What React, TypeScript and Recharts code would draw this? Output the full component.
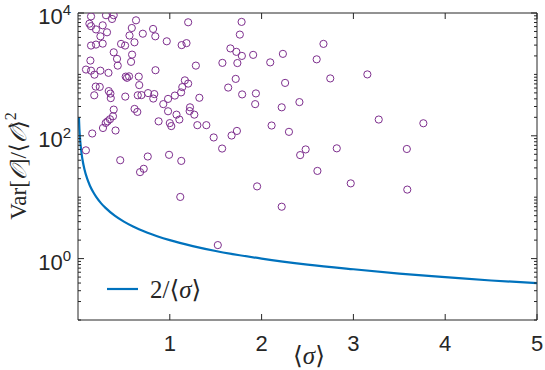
import React from 'react';
import { ComposedChart, Scatter, Line, XAxis, YAxis, Legend, ReferenceLine } from 'recharts';

// Scatter points: <sigma> and Var[O]/<O>^2
const scatterSigma = [
  0.142, 0.305, 0.389, 0.371, 0.124, 0.142, 0.269, 0.196, 0.316, 0.244,
  0.632, 0.586, 0.706, 0.561, 0.615, 0.469, 0.513, 0.142, 0.196, 0.269,
  0.389, 0.589, 0.135, 0.425, 0.578, 0.087, 0.142, 0.244, 0.179, 0.332,
  0.433, 0.520, 0.556, 0.534, 0.662, 0.193, 0.237, 0.335, 0.353, 0.357,
  0.177, 0.515, 0.667, 0.651, 0.691, 0.389, 0.616, 0.646, 0.381, 0.348,
  0.322, 0.302, 0.272, 0.409, 0.155, 0.086, 0.460, 0.760, 0.716, 0.676,
  0.818, 0.842, 0.967, 1.200, 1.129, 1.182, 1.284, 0.844, 1.164, 1.200,
  1.136, 0.763, 0.831, 0.820, 0.929, 0.981, 1.055, 1.123, 1.322, 0.981,
  1.073, 1.220, 1.216, 1.267, 0.878, 1.000, 1.016, 1.104, 1.300, 1.398,
  1.478, 0.992, 1.125, 1.114, 1.523,
  1.782, 1.763, 1.660, 1.725, 1.785, 1.908, 2.232, 2.674, 1.573, 1.736,
  2.094, 2.600, 3.152, 1.718, 2.748, 2.256, 1.636, 1.788, 1.938, 1.930,
  2.219, 2.412, 3.276, 3.762, 2.109, 2.298, 1.731, 1.673, 1.570, 2.480,
  2.420, 2.819, 3.582, 2.608, 2.971, 1.951, 3.587, 2.219,
];
const scatterVar = [
  8800, 9200, 9200, 8000, 6700, 6100, 6300, 5400, 4850, 4170,
  7600, 5700, 4600, 4300, 3330, 3140, 2950, 2950, 3060, 3170,
  2290, 2100, 1680, 1790, 1600, 1200, 1150, 1150, 990, 1060,
  1390, 920, 930, 880, 920, 633, 626, 535, 487, 411,
  457, 435, 670, 457, 460, 267, 274, 245, 208, 186,
  172, 162, 134, 122, 109, 58, 40, 46, 29, 25.6,
  5500, 4170, 3460, 7060, 3000, 3230, 1390, 1170, 800, 708,
  621, 496, 478, 404, 328, 399, 452, 509, 416, 251,
  221, 291, 253, 221, 172, 161, 144, 184, 149, 149,
  94, 49, 39, 10.1, 1.66,
  7160, 4450, 2650, 2330, 2000, 2080, 2160, 3140, 1540, 1530,
  1570, 1760, 1000, 845, 860, 727, 610, 472, 490, 328,
  291, 354, 184, 160, 147, 116, 120, 101, 62, 60,
  48.5, 62.5, 61, 26.8, 16.8, 15, 13.3, 7.0,
];

// Reference curve 2/<sigma>
const curveSigma = [0.01, 0.015, 0.02, 0.03, 0.04, 0.05, 0.07, 0.1, 0.13, 0.17, 0.2, 0.25, 0.3, 0.4, 0.5, 0.6, 0.75, 1, 1.25, 1.5, 2, 2.5, 3, 3.5, 4, 4.5, 5];
const curveVar = [200, 133, 100, 67, 50, 40, 28.6, 20, 15.4, 11.8, 10, 8, 6.7, 5, 4, 3.33, 2.67, 2, 1.6, 1.33, 1, 0.8, 0.67, 0.57, 0.5, 0.44, 0.4];

const xTicks = [1, 2, 3, 4, 5];
const yMajorTicks = [1, 100, 10000];
const yMajorExp = ['0', '2', '4'];
const yDecades = [0.1, 1, 10, 100, 1000];
const yMantissas = [1, 2, 3, 4, 5, 6, 7, 8, 9];
const legendLabel = '2/⟨σ⟩';

const yTicks: number[] = [];
yDecades.forEach((d) => yMantissas.forEach((m) => yTicks.push(+(d * m).toPrecision(3))));
yTicks.push(10000);

const scatterData = scatterSigma.map((s, i) => ({ s, v: scatterVar[i] }));
const curveData = curveSigma.map((s, i) => ({ s, v: curveVar[i] }));

const W = 545;
const H = 370;
const LEFT = 78;
const RIGHT = 537;
const TOP = 13;
const BOTTOM = 320;
const AXIS = '#262626';
const PURPLE = '#7E2F8E';
const BLUE = '#0072BD';
const SANS = '"Liberation Sans", Arial, Helvetica, sans-serif';
const SERIF = '"Liberation Serif", "DejaVu Serif", serif';

const YTick = (props: any) => {
  const { y, payload } = props;
  const v = payload.value;
  const idx = yMajorTicks.indexOf(v);
  const len = idx >= 0 ? 6 : 3;
  return (
    <g>
      <line x1={LEFT} x2={LEFT + len} y1={y} y2={y} stroke={AXIS} strokeWidth={1} />
      <line x1={RIGHT} x2={RIGHT - len} y1={y} y2={y} stroke={AXIS} strokeWidth={1} />
      {idx >= 0 && (
        <text x={LEFT - 7} y={y + 11} textAnchor="end" fontFamily={SANS} fontSize={22} fill={AXIS}>
          <tspan>10</tspan>
          <tspan dy={-9} fontSize={15}>{yMajorExp[idx]}</tspan>
        </text>
      )}
    </g>
  );
};

const XTick = (props: any) => {
  const { x, payload } = props;
  return (
    <g>
      <line x1={x} x2={x} y1={BOTTOM} y2={BOTTOM - 6} stroke={AXIS} strokeWidth={1} />
      <line x1={x} x2={x} y1={TOP} y2={TOP + 6} stroke={AXIS} strokeWidth={1} />
      <text x={x} y={BOTTOM + 31} textAnchor="middle" fontFamily={SANS} fontSize={22} fill={AXIS}>
        {payload.value}
      </text>
    </g>
  );
};

const Circle = (props: any) => {
  const { cx, cy } = props;
  if (cx == null || cy == null) return null;
  return <circle cx={cx} cy={cy} r={3.6} fill="none" stroke={PURPLE} strokeWidth={1} />;
};

const LegendContent = () => (
  <svg width={130} height={34}>
    <line x1={2} x2={33} y1={17} y2={17} stroke={BLUE} strokeWidth={2.2} />
    <text x={45} y={26} fontFamily={SERIF} fontSize={25} fill={AXIS}>
      <tspan>2/⟨</tspan>
      <tspan fontStyle="italic">σ</tspan>
      <tspan>⟩</tspan>
    </text>
  </svg>
);

export default function App() {
  return (
    <div style={{ position: 'absolute', left: 0, top: 0, width: W, height: H, background: '#fff' }}>
      <ComposedChart
        width={W}
        height={H}
        margin={{ top: TOP, right: W - RIGHT, bottom: 0, left: 0 }}
      >
        <XAxis
          dataKey="s"
          type="number"
          domain={[0, 5]}
          ticks={xTicks}
          allowDataOverflow
          height={H - BOTTOM}
          tickSize={0}
          tickMargin={0}
          tickLine={false}
          tick={<XTick />}
          axisLine={{ stroke: AXIS, strokeWidth: 1 }}
          interval={0}
        />
        <YAxis
          dataKey="v"
          type="number"
          scale="log"
          domain={[0.1, 10000]}
          ticks={yTicks}
          allowDataOverflow
          width={LEFT}
          tickSize={0}
          tickMargin={0}
          tickLine={false}
          tick={<YTick />}
          axisLine={{ stroke: AXIS, strokeWidth: 1 }}
          interval={0}
        />
        <ReferenceLine y={10000} stroke={AXIS} strokeWidth={1} ifOverflow="extendDomain" />
        <ReferenceLine x={5} stroke={AXIS} strokeWidth={1} ifOverflow="extendDomain" />
        <Line
          data={curveData}
          dataKey="v"
          type="monotone"
          stroke={BLUE}
          strokeWidth={2.2}
          dot={false}
          isAnimationActive={false}
          legendType="line"
          name={legendLabel}
        />
        <Scatter
          data={scatterData}
          dataKey="v"
          shape={<Circle />}
          isAnimationActive={false}
          legendType="none"
        />
        <Legend
          layout="horizontal"
          verticalAlign="middle"
          align="center"
          content={<LegendContent />}
          wrapperStyle={{ position: 'absolute', left: 105, top: 272, width: 130, height: 34 }}
        />
      </ComposedChart>
      <svg
        width={W}
        height={H}
        style={{ position: 'absolute', left: 0, top: 0, pointerEvents: 'none' }}
      >
        <text
          transform="translate(26,166) rotate(-90)"
          textAnchor="middle"
          fontFamily={SERIF}
          fontSize={23}
          fill={AXIS}
        >
          <tspan>Var[</tspan>
          <tspan fontFamily='"DejaVu Sans", serif' fontStyle="italic">𝒪</tspan>
          <tspan>]/⟨</tspan>
          <tspan fontFamily='"DejaVu Sans", serif' fontStyle="italic">𝒪</tspan>
          <tspan>⟩</tspan>
          <tspan dy={-10} fontSize={16}>2</tspan>
        </text>
        <text x={309} y={364} textAnchor="middle" fontFamily={SERIF} fontSize={25} fill={AXIS}>
          <tspan>⟨</tspan>
          <tspan fontStyle="italic">σ</tspan>
          <tspan>⟩</tspan>
        </text>
      </svg>
    </div>
  );
}
